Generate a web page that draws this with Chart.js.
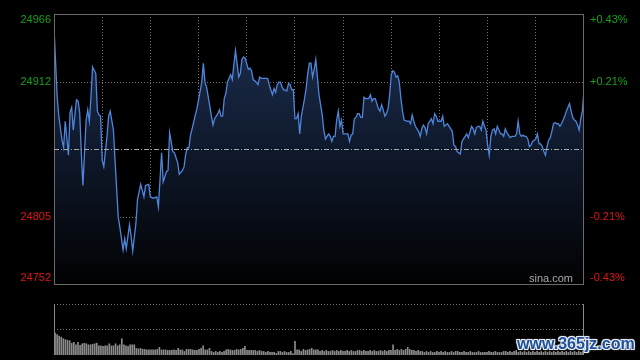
<!DOCTYPE html>
<html>
<head>
  <meta charset="utf-8">
  <title>HSI intraday</title>
  <style>
    html, body { margin: 0; padding: 0; background: #000; }
    body { width: 640px; height: 360px; overflow: hidden; position: relative; }
    #main { position: absolute; left: 0; top: 0; }
    #vol { position: absolute; left: 0; top: 290px; }
    #mark {
      position: absolute; left: 517px; top: 335px;
      font: bold 16px "Liberation Sans", Arial, sans-serif;
      color: #1f4f97; white-space: nowrap;
      text-shadow: 1px 1px 0 #e8eef8, -1px -1px 0 #e8eef8, 1px -1px 0 #e8eef8, -1px 1px 0 #e8eef8, 0 0 3px #fff;
    }
  </style>
</head>
<body>
  <canvas id="main" width="640" height="290"></canvas>
  <canvas id="vol" width="640" height="70"></canvas>
  <div id="mark">www.365jz.com</div>

  <script src="https://cdn.jsdelivr.net/npm/chart.js"></script>
  <script>
    // price range and previous close
    const prevClose = 24859;
    const priceMin = 24752;
    const priceMax = 24966;
    const leftTicks = [24966, 24912, 24805, 24752];
    const leftLabels = ['24966', '24912', '24805', '24752'];
    const rightLabels = ['+0.43%', '+0.21%', '-0.21%', '-0.43%'];
    const timeTicks = [30, 60, 90, 120, 150, 180, 210, 240, 270, 300];

    // minutes since 9:30 (lunch break removed) and index level
    const minutes = [0,2,3,5,6,7,9,10,11,12,14,15,16,17,18,20,21,22,23,24,26,27,28,29,30,31,33,34,35,37,38,40,41,43,44,45,47,48,49,51,52,54,56,57,59,60,62,64,65,67,68,70,71,72,74,75,77,78,80,81,82,83,84,85,86,88,89,90,92,93,94,95,97,98,99,100,102,103,104,105,106,107,108,110,111,112,113,114,115,116,117,118,119,121,122,123,124,125,126,127,128,129,131,133,134,135,136,137,138,139,140,141,142,143,145,146,147,148,149,150,151,152,153,154,156,157,158,159,160,161,162,163,164,165,167,168,169,171,172,173,174,175,176,177,178,179,180,182,183,184,185,186,187,188,189,190,191,192,193,194,196,197,198,199,200,202,203,204,205,206,207,208,209,210,211,212,213,214,215,216,217,218,220,221,222,223,224,225,226,227,228,229,230,231,232,233,235,236,237,238,239,240,241,242,243,245,246,248,249,250,251,253,254,255,256,257,258,260,261,262,263,264,265,266,267,268,269,270,271,272,273,274,275,276,277,278,279,280,281,282,284,285,286,287,288,289,290,291,292,293,294,295,296,297,298,299,300,301,302,303,304,305,306,307,308,309,310,311,312,313,314,315,316,317,318,319,320,321,322,323,324,325,326,327,328,329,330];
    const prices = [24955,24900,24885,24866,24860,24881,24854,24888,24892,24874,24898,24897,24888,24856,24830,24882,24890,24881,24900,24924,24919,24889,24886,24885,24850,24845,24869,24885,24889,24874,24850,24805,24797,24779,24788,24780,24799,24790,24778,24800,24819,24831,24821,24830,24831,24821,24820,24821,24813,24856,24833,24841,24842,24872,24857,24856,24848,24839,24842,24845,24855,24860,24860,24870,24875,24886,24891,24898,24912,24927,24912,24908,24893,24885,24878,24883,24887,24890,24885,24885,24899,24903,24912,24918,24914,24926,24937,24927,24916,24919,24930,24932,24931,24922,24923,24921,24914,24913,24912,24910,24916,24915,24915,24915,24910,24906,24902,24907,24904,24910,24912,24912,24908,24906,24905,24911,24910,24906,24906,24883,24883,24887,24871,24885,24899,24907,24919,24927,24927,24916,24922,24930,24916,24902,24886,24874,24867,24871,24869,24865,24869,24869,24882,24889,24877,24882,24871,24871,24871,24865,24870,24871,24883,24884,24887,24887,24884,24884,24900,24899,24899,24902,24897,24899,24899,24891,24889,24894,24890,24885,24887,24891,24902,24918,24921,24920,24916,24917,24912,24899,24889,24882,24881,24881,24879,24886,24881,24877,24875,24873,24869,24875,24878,24876,24871,24879,24883,24879,24887,24885,24881,24881,24881,24885,24877,24879,24877,24873,24862,24861,24857,24855,24865,24867,24869,24871,24868,24877,24875,24871,24876,24877,24877,24874,24881,24877,24874,24862,24854,24869,24874,24875,24871,24877,24874,24871,24871,24869,24875,24872,24868,24869,24869,24869,24871,24881,24871,24869,24870,24869,24869,24867,24861,24862,24865,24866,24867,24871,24863,24863,24861,24857,24854,24861,24866,24868,24873,24879,24880,24879,24879,24877,24879,24882,24885,24889,24892,24895,24889,24884,24882,24881,24878,24874,24883,24889,24906];

    // volume bars, panel scale 0..100
    const volumes = [43,40,37,35,32,30,29,28,23,25,20,25,19,22,23,22,20,20,21,22,23,18,18,17,18,18,22,18,18,22,18,20,32,20,18,17,20,20,20,13,12,13,11,11,10,10,10,10,10,11,15,10,10,10,9,9,9,10,9,13,10,10,7,11,11,11,10,9,9,11,13,18,10,10,13,7,5,7,5,7,5,7,10,11,10,9,9,11,10,11,13,17,9,9,9,9,9,7,9,7,7,5,7,5,5,5,3,7,7,5,7,5,5,7,3,27,10,10,7,11,9,10,11,13,10,10,10,
      7,9,7,9,7,7,9,7,9,7,9,7,7,9,7,9,7,7,9,9,7,9,7,7,9,7,9,7,7,9,7,9,7,9,9,20,9,11,9,11,9,11,15,11,9,9,7,9,7,7,5,7,5,7,5,5,7,5,7,5,7,5,5,7,5,7,7,5,5,7,5,5,7,5,5,5,7,5,5,5,5,7,5,5,7,5,5,5,7,7,5,7,5,7,9,5,7,5,7,5,7,5,7,5,7,5,7,5,7,5,7,5,7,5,7,5,7,5,7,5,7,5,7,5,7,5,7];
    const volTicks = [50, 100];

    const GRID = '#727272';
    const FONT = '11px Arial, "Liberation Sans", sans-serif';

    const zeroW = s => { s.width = 0; };
    const zeroH = s => { s.height = 0; };

    // frame, previous-close line and side labels
    const decor = {
      id: 'decor',
      afterDatasetsDraw(chart) {
        const { ctx, chartArea: a } = chart;
        const y = chart.scales.y;
        ctx.save();
        ctx.strokeStyle = '#6a6a6a';
        ctx.lineWidth = 1;
        ctx.strokeRect(a.left + 0.5, a.top + 0.5, a.right - a.left - 1, a.bottom - a.top);

        const py = Math.round(y.getPixelForValue(prevClose)) + 0.5;
        ctx.strokeStyle = '#a8a8a8';
        ctx.setLineDash([5, 2, 1, 2]);
        ctx.beginPath();
        ctx.moveTo(a.left, py);
        ctx.lineTo(a.right, py);
        ctx.stroke();
        ctx.setLineDash([]);

        ctx.font = FONT;
        ctx.textBaseline = 'middle';
        leftTicks.forEach((v, i) => {
          let ty = y.getPixelForValue(v);
          ty = Math.min(Math.max(ty, a.top + 6), a.bottom - 6);
          ctx.fillStyle = v > prevClose ? '#16a016' : '#e01414';
          ctx.textAlign = 'right';
          ctx.fillText(leftLabels[i], a.left - 3, ty);
          ctx.textAlign = 'left';
          ctx.fillText(rightLabels[i], a.right + 6, ty);
        });

        ctx.fillStyle = '#a8a8a8';
        ctx.textAlign = 'right';
        ctx.textBaseline = 'alphabetic';
        ctx.fillText('sina.com', a.right - 11, a.bottom - 2);
        ctx.restore();
      }
    };

    const main = new Chart(document.getElementById('main'), {
      type: 'line',
      data: {
        datasets: [{
          data: minutes.map((m, i) => ({ x: m, y: prices[i] })),
          borderColor: '#4f86dc',
          borderWidth: 1.3,
          pointRadius: 0,
          tension: 0,
          fill: 'start',
          backgroundColor: (c) => {
            const a = c.chart.chartArea;
            if (!a) return 'rgba(0,0,0,0)';
            const g = c.chart.ctx.createLinearGradient(0, a.top, 0, a.bottom);
            g.addColorStop(0, '#1e3054');
            g.addColorStop(0.5, '#0f192c');
            g.addColorStop(1, '#020203');
            return g;
          }
        }]
      },
      options: {
        responsive: false,
        animation: false,
        devicePixelRatio: 1,
        layout: { padding: { left: 54, right: 56, top: 14, bottom: 6 } },
        plugins: { legend: { display: false }, tooltip: { enabled: false } },
        scales: {
          x: {
            type: 'linear', min: 0, max: 330,
            afterBuildTicks: s => { s.ticks = timeTicks.map(v => ({ value: v })); },
            afterFit: zeroH,
            ticks: { display: false },
            grid: { color: GRID, drawTicks: false },
            border: { display: false, dash: [1, 2] }
          },
          y: {
            min: priceMin, max: priceMax,
            afterBuildTicks: s => { s.ticks = [24805, 24912].map(v => ({ value: v })); },
            afterFit: zeroW,
            ticks: { display: false },
            grid: { color: GRID, drawTicks: false },
            border: { display: false, dash: [1, 2] }
          }
        }
      },
      plugins: [decor]
    });

    const volFrame = {
      id: 'volFrame',
      afterDatasetsDraw(chart) {
        const { ctx, chartArea: a } = chart;
        ctx.save();
        ctx.strokeStyle = '#8a8a8a';
        ctx.lineWidth = 1;
        ctx.beginPath();
        ctx.moveTo(a.left + 0.5, a.top);
        ctx.lineTo(a.left + 0.5, a.bottom);
        ctx.moveTo(a.right - 0.5, a.top);
        ctx.lineTo(a.right - 0.5, a.bottom);
        ctx.stroke();
        ctx.restore();
      }
    };

    new Chart(document.getElementById('vol'), {
      type: 'bar',
      data: {
        labels: volumes.map((_, i) => String(i)),
        datasets: [{ data: volumes, backgroundColor: '#8c8c8c', barThickness: 1 }]
      },
      options: {
        responsive: false,
        animation: false,
        devicePixelRatio: 1,
        layout: { padding: { left: 54, right: 56, top: 14, bottom: 5 } },
        plugins: { legend: { display: false }, tooltip: { enabled: false } },
        scales: {
          x: {
            afterFit: zeroH,
            ticks: { display: false },
            grid: { display: false },
            border: { display: false }
          },
          y: {
            min: 0, max: 100,
            afterBuildTicks: s => { s.ticks = volTicks.map(v => ({ value: v })); },
            afterFit: zeroW,
            ticks: { display: false },
            grid: { color: GRID, drawTicks: false },
            border: { display: false, dash: [1, 2] }
          }
        }
      },
      plugins: [volFrame]
    });
  </script>
</body>
</html>
